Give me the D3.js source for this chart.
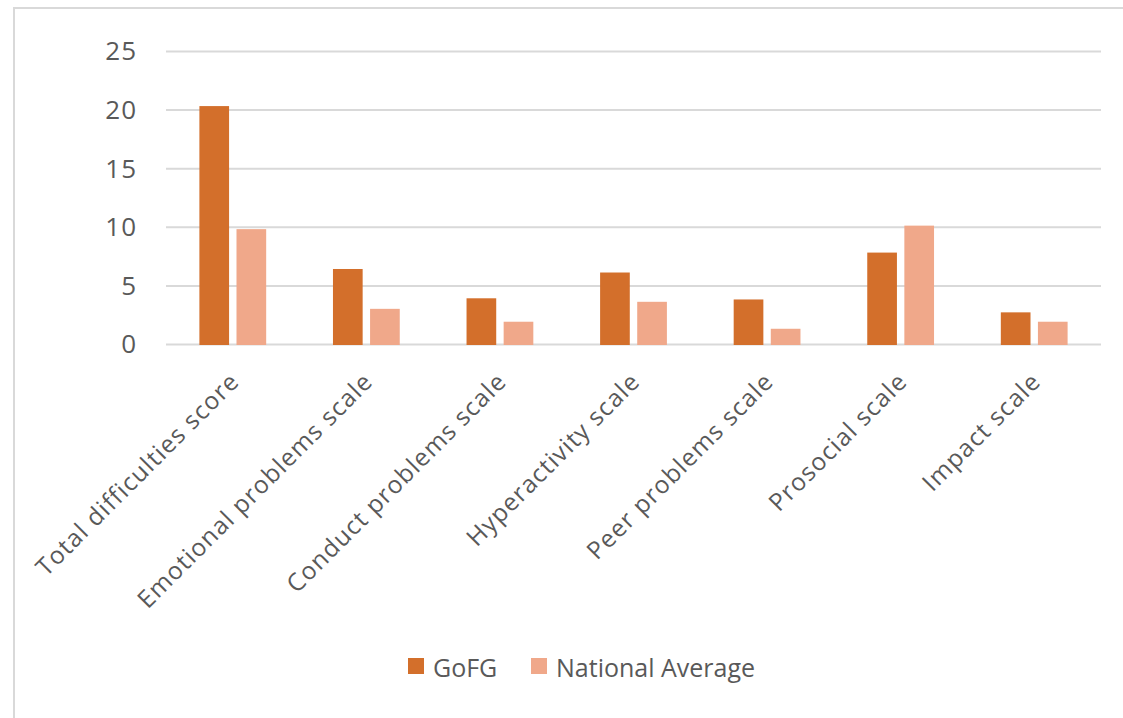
<!DOCTYPE html>
<html>
<head>
<meta charset="utf-8">
<script src="https://cdn.jsdelivr.net/npm/d3@7"></script>
<style>
  html, body { margin: 0; padding: 0; background: #ffffff; }
  svg { display: block; }
  text { font-family: "Open Sans", "Noto Sans", sans-serif; fill: #595959; }
</style>
</head>
<body>
<svg id="chart" width="1123" height="718"></svg>
<script>
const categories = [
  "Total difficulties score",
  "Emotional problems scale",
  "Conduct problems scale",
  "Hyperactivity scale",
  "Peer problems scale",
  "Prosocial scale",
  "Impact scale"
];
const seriesNames = ["GoFG", "National Average"];
const gofgValues = [20.3, 6.4, 3.9, 6.1, 3.8, 7.8, 2.7];
const nationalValues = [9.8, 3.0, 1.9, 3.6, 1.3, 10.1, 1.9];
const yTicks = [0, 5, 10, 15, 20, 25];
const seriesColors = ["#D36F2B", "#F0A88A"];

const rows = categories.map((c, i) => ({ cat: c, values: [gofgValues[i], nationalValues[i]] }));

const svg = d3.select("#chart");

// outer chart border (partly cut off by the frame)
svg.append("path")
  .attr("d", "M14,718 L14,8 L1123,8")
  .attr("fill", "none")
  .attr("stroke", "#D9D9D9")
  .attr("stroke-width", 2);

const x = d3.scaleBand().domain(categories).range([166, 1101]).paddingInner(0.5).paddingOuter(0.25);
const xs = d3.scaleBand().domain(seriesNames).range([0, x.bandwidth()]).paddingInner(0.2);
const y = d3.scaleLinear().domain([0, 25]).range([344, 51]);

// gridlines
svg.append("g")
  .attr("transform", "translate(166,0)")
  .call(d3.axisLeft(y).tickValues(yTicks).tickSize(-935).tickFormat(""))
  .call(g => g.select(".domain").remove())
  .call(g => g.selectAll("line").attr("stroke", "#D9D9D9").attr("stroke-width", 2));

// y tick labels
svg.append("g")
  .selectAll("text")
  .data(yTicks)
  .join("text")
  .attr("x", 137)
  .attr("y", d => y(d))
  .attr("dy", "0.36em")
  .attr("text-anchor", "end")
  .attr("font-size", 26)
  .attr("letter-spacing", 1)
  .text(d => d);

// bars
const groups = svg.append("g")
  .selectAll("g")
  .data(rows)
  .join("g")
  .attr("transform", d => `translate(${x(d.cat)},0)`);

groups.selectAll("rect")
  .data(d => d.values.map((v, i) => ({ name: seriesNames[i], v, i })))
  .join("rect")
  .attr("x", d => xs(d.name))
  .attr("width", xs.bandwidth())
  .attr("y", d => y(d.v))
  .attr("height", d => y(0) - y(d.v) + 1)
  .attr("fill", d => seriesColors[d.i]);

// category labels
svg.append("g")
  .selectAll("text")
  .data(categories)
  .join("text")
  .attr("text-anchor", "end")
  .attr("font-size", 24.5)
  .attr("letter-spacing", 1.1)
  .attr("transform", d => `translate(${x(d) + x.bandwidth() / 2 + 8},${383}) rotate(-45)`)
  .text(d => d);

// legend
const legend = svg.append("g");
const legendX = [408, 531];
seriesNames.forEach((name, i) => {
  legend.append("rect")
    .attr("x", legendX[i]).attr("y", 658)
    .attr("width", 16).attr("height", 16)
    .attr("fill", seriesColors[i]);
  legend.append("text")
    .attr("x", legendX[i] + 25).attr("y", 677)
    .attr("font-size", 25)
    .text(name);
});
</script>
</body>
</html>
